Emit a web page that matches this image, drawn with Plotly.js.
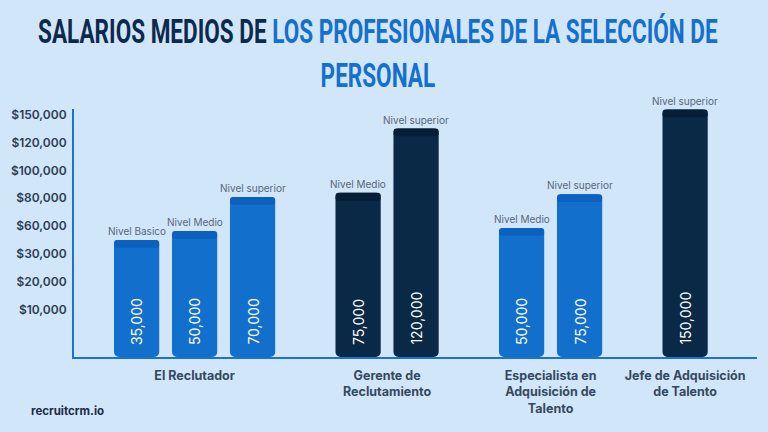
<!DOCTYPE html>
<html>
<head>
<meta charset="utf-8">
<script src="https://cdn.plot.ly/plotly-3.0.1.min.js"></script>
<style>
  html, body { margin: 0; padding: 0; background: #d2e6fa; }
  #plot { width: 768px; height: 432px; }
</style>
</head>
<body>
<div id="plot"></div>
<script>
// Group names (x axis) and which group every bar belongs to.
const GROUPS = [
  'El Reclutador',
  'Gerente de<br>Reclutamiento',
  'Especialista en<br>Adquisición de<br>Talento',
  'Jefe de Adquisición<br>de Talento'
];
const BAR_GROUP = [0, 0, 0, 1, 1, 2, 2, 3];
const LEVELS = ['Nivel Basico', 'Nivel Medio', 'Nivel superior', 'Nivel Medio', 'Nivel superior',
  'Nivel Medio', 'Nivel superior', 'Nivel superior'];
const SALARIES = [35000, 50000, 70000, 75000, 120000, 50000, 75000, 150000];

// The value axis of the original is not linear: its labels sit on evenly spaced rows.
// Bar tops are read against those rows ($10,000 = row 1 ... $150,000 = row 8).
const Y_TICK_TEXT = ['$10,000', '$20,000', '$30,000', '$60,000', '$80,000', '$100,000', '$120,000', '$150,000'];
const BAR_TOPS = [3.5, 3.82, 5.04, 5.19, 7.5, 3.93, 5.14, 8.18];
const AXIS_FLOOR = -0.7;

const GROUP_COLORS = ['#1270cc', '#0a2947', '#1270cc', '#0a2947'];
const CAP_COLORS = ['#0b60c0', '#061e38', '#0b60c0', '#061e38'];
const GROUP_GAP = 0.82;
const CAP = 0.28;

// no condensed display face is installed, so the title is squeezed to the original width
const TITLE_FONT = 'Roboto, "Noto Sans", sans-serif';
const TITLE_WIDTH = 680;
const BODY_FONT = 'Inter, "Open Sans", sans-serif';

function barPositions() {
  let positions = [];
  let x = 0;
  for (let i = 0; i < BAR_GROUP.length; i++) {
    if (i > 0) {
      x += BAR_GROUP[i] !== BAR_GROUP[i - 1] ? 1 + GROUP_GAP : 1;
    }
    positions.push(x);
  }
  return positions;
}

function groupCenters(positions) {
  return GROUPS.map((g, gi) => {
    let xs = positions.filter((p, i) => BAR_GROUP[i] === gi);
    return xs.reduce((a, b) => a + b, 0) / xs.length;
  });
}

function squeezeTitle(gd) {
  const t = gd.querySelector('.gtitle');
  if (!t) return;
  const bb = t.getBBox();
  const cx = bb.x + bb.width / 2;
  const sx = TITLE_WIDTH / bb.width;
  const prev = t.getAttribute('transform') || '';
  t.setAttribute('transform', `${prev} translate(${cx} 0) scale(${sx} 1) translate(${-cx} 0)`);
}

function makePlot() {
  const xs = barPositions();
  const colors = BAR_GROUP.map(g => GROUP_COLORS[g]);
  const capColors = BAR_GROUP.map(g => CAP_COLORS[g]);

  const bars = {
    type: 'bar', x: xs, y: BAR_TOPS.map(t => t - AXIS_FLOOR), base: AXIS_FLOOR,
    width: 0.78, marker: {color: colors, cornerradius: 5}, hoverinfo: 'skip'
  };
  const caps = {
    type: 'bar', x: xs, y: BAR_TOPS.map(() => CAP), base: BAR_TOPS.map(t => t - CAP),
    width: 0.78, marker: {color: capColors, cornerradius: 4}, hoverinfo: 'skip'
  };

  let annotations = [];
  for (let i = 0; i < xs.length; i++) {
    annotations.push({
      x: xs[i], y: BAR_TOPS[i], xref: 'x', yref: 'y', yanchor: 'bottom', yshift: 1,
      text: LEVELS[i], showarrow: false, font: {family: BODY_FONT, size: 10, color: '#56667a'}
    });
    annotations.push({
      x: xs[i], y: AXIS_FLOOR, xref: 'x', yref: 'y', yanchor: 'bottom', yshift: 10,
      text: SALARIES[i].toLocaleString('en-US'), textangle: -90, showarrow: false,
      font: {family: BODY_FONT, size: 14, color: '#ffffff'}
    });
  }
  annotations.push({
    xref: 'paper', yref: 'paper', x: -0.066, y: -0.218, xanchor: 'left', yanchor: 'middle',
    text: 'recruitcrm.io', showarrow: false,
    font: {family: BODY_FONT, size: 11.5, weight: 700, color: '#1b2b44'}
  });

  const layout = {
    width: 768, height: 432,
    paper_bgcolor: '#d2e6fa', plot_bgcolor: '#d2e6fa',
    margin: {l: 74, r: 11, t: 109, b: 75},
    barmode: 'overlay',
    showlegend: false,
    title: {
      text: '<span style="color:#0c2a4b">SALARIOS MEDIOS DE </span>' +
            '<span style="color:#1470cc">LOS PROFESIONALES DE LA SELECCIÓN DE<br>PERSONAL</span>',
      font: {family: TITLE_FONT, size: 34, weight: 700},
      x: 0.492, xanchor: 'center', y: 0.9, yanchor: 'top', yref: 'container'
    },
    xaxis: {
      range: [-1.08, 10.7], showgrid: false, zeroline: false,
      showline: true, linecolor: '#1a73d0', linewidth: 2,
      tickvals: groupCenters(xs), ticktext: GROUPS, ticks: '', ticklabelstandoff: 6,
      tickfont: {family: BODY_FONT, size: 12.5, weight: 700, color: '#34495e'}
    },
    yaxis: {
      range: [AXIS_FLOOR, 8.2], showgrid: false, zeroline: false,
      showline: true, linecolor: '#1a73d0', linewidth: 2,
      tickvals: Y_TICK_TEXT.map((t, i) => i + 1), ticktext: Y_TICK_TEXT, ticks: '', ticklabelstandoff: 3,
      tickfont: {family: BODY_FONT, size: 12, weight: 600, color: '#2b3d55'}
    },
    annotations: annotations
  };

  Plotly.newPlot('plot', [bars, caps], layout, {staticPlot: true, displayModeBar: false})
    .then(squeezeTitle);
}

makePlot();
</script>
</body>
</html>
